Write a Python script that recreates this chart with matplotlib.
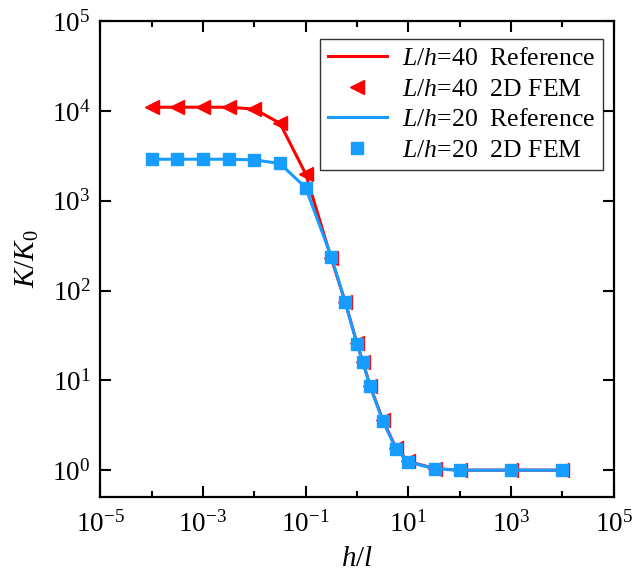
import numpy as np
import matplotlib
matplotlib.use("Agg")
import matplotlib.pyplot as plt
from matplotlib.ticker import FixedLocator, FuncFormatter, NullLocator, NullFormatter

plt.rcParams['font.family'] = 'Liberation Serif'
plt.rcParams['mathtext.fontset'] = 'custom'
plt.rcParams['mathtext.rm'] = 'Liberation Serif'
plt.rcParams['mathtext.it'] = 'Liberation Serif:italic'

# h/l values
h_l = [1e-4, 3.16e-4, 1e-3, 3.16e-3, 1e-2, 3.16e-2, 1e-1, 3.16e-1, 0.59,
       1.0, 1.3, 1.8, 3.2, 5.8, 10, 33, 100, 1e3, 1e4]

# K/K0 for L/h = 40
k40 = [1.1e4, 1.1e4, 1.1e4, 1.1e4, 1.05e4, 7.3e3, 2.0e3, 228, 75,
       25.8, 16.2, 8.7, 3.6, 1.75, 1.25, 1.04, 1.0, 1.0, 1.0]

# K/K0 for L/h = 20
k20 = [2.9e3, 2.9e3, 2.9e3, 2.9e3, 2.85e3, 2.6e3, 1.4e3, 239, 74,
       25.6, 16.0, 8.6, 3.53, 1.70, 1.24, 1.03, 1.0, 1.0, 1.0]

red = '#ff0000'
blue = '#169dff'

fig = plt.figure(figsize=(6.38, 5.87), dpi=100)
ax = fig.add_axes([0.157, 0.153, 0.805, 0.811])

ax.plot(h_l, k40, '-', color=red, lw=2.2, label=r'$L/h$=40  Reference')
ax.plot(h_l, k40, '<', color=red, ms=10.5, ls='none', label=r'$L/h$=40  2D FEM')
ax.plot(h_l, k20, '-', color=blue, lw=2.2, label=r'$L/h$=20  Reference')
ax.plot(h_l, k20, 's', color=blue, ms=8, ls='none', label=r'$L/h$=20  2D FEM')

ax.set_xscale('log')
ax.set_yscale('log')
ax.set_xlim(1e-5, 1e5)
ax.set_ylim(0.5, 1e5)

ax.xaxis.set_major_locator(FixedLocator([10.0**e for e in range(-5, 6, 2)]))
ax.xaxis.set_minor_locator(FixedLocator([10.0**e for e in range(-4, 5, 2)]))
ax.yaxis.set_major_locator(FixedLocator([10.0**e for e in range(0, 6)]))
ax.yaxis.set_minor_locator(NullLocator())
fmt = FuncFormatter(lambda v, p: r'$\mathregular{10^{%d}}$' % round(np.log10(v)))
ax.xaxis.set_major_formatter(fmt)
ax.yaxis.set_major_formatter(fmt)
ax.xaxis.set_minor_formatter(NullFormatter())
ax.yaxis.set_minor_formatter(NullFormatter())

ax.tick_params(which='both', direction='in', top=True, right=True,
               labelsize=19.5, width=1.5)
ax.tick_params(which='major', length=8)
ax.tick_params(axis='x', which='major', pad=10)
ax.tick_params(axis='y', which='major', pad=7)
ax.tick_params(which='minor', length=4)
for s in ax.spines.values():
    s.set_linewidth(1.6)

ax.set_xlabel(r'$h/l$', fontsize=21, labelpad=6)
ax.set_ylabel(r'$K/K_0$', fontsize=21, labelpad=8)

leg = ax.legend(loc='upper right', bbox_to_anchor=(0.98, 0.962), fontsize=18.5,
                fancybox=False, frameon=True, edgecolor='black',
                handlelength=2.3, borderpad=0.3, labelspacing=0.3,
                handletextpad=0.6, borderaxespad=0.0)
leg.get_frame().set_linewidth(1.0)

fig.savefig('out.png', dpi=100)
